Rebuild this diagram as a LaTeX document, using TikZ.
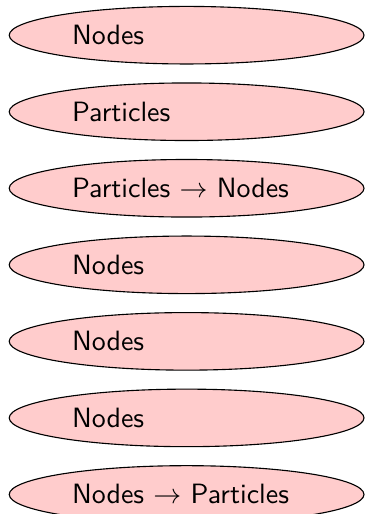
\documentclass[tikz,border=0pt]{standalone}
\usetikzlibrary{positioning,shapes.geometric}

\begin{document}
\begin{tikzpicture}[
  font=\sffamily,
  fase/.style={draw, ellipse, fill=red!20, minimum width=127pt, minimum height=20.6pt,
               text width=82pt, align=left, inner sep=1pt},
  node distance=6.4pt
]
\useasboundingbox (0,0) rectangle (131pt,-184pt);
\node[fase] (s1) at (66.8pt,-12.6pt) {Nodes};
\node[fase, below=of s1] (s2) {Particles};
\node[fase, below=of s2] (s3) {Particles $\rightarrow$ Nodes};
\node[fase, below=of s3] (s4) {Nodes};
\node[fase, below=of s4] (s5) {Nodes};
\node[fase, below=of s5] (s6) {Nodes};
\node[fase, below=of s6] (s7) {Nodes $\rightarrow$ Particles};
\end{tikzpicture}
\end{document}
